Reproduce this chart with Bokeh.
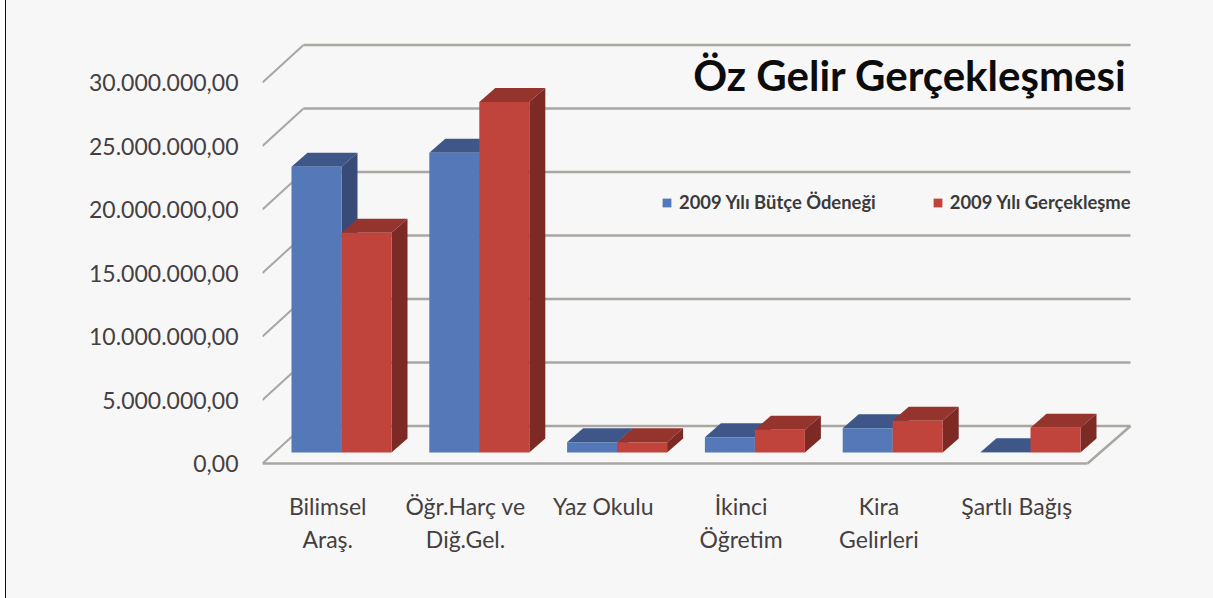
from bokeh.plotting import figure
from bokeh.embed import file_html
from bokeh.resources import INLINE
from bokeh.core.properties import value
from bokeh.models import FixedTicker, Legend, LegendItem, Range1d

title = "Öz Gelir Gerçekleşmesi"
categories = [["Bilimsel", "Araş."], ["Öğr.Harç ve", "Diğ.Gel."], ["Yaz Okulu"],
              ["İkinci", "Öğretim"], ["Kira", "Gelirleri"], ["Şartlı Bağış"]]
series_names = ["2009 Yılı Bütçe Ödeneği", "2009 Yılı Gerçekleşme"]
butce = [22500000, 23600000, 800000, 1200000, 1900000, 20000]
gerceklesme = [17300000, 27600000, 800000, 1800000, 2500000, 1950000]
ticks = [0, 5000000, 10000000, 15000000, 20000000, 25000000, 30000000]
tick_labels = ["0,00", "5.000.000,00", "10.000.000,00", "15.000.000,00",
               "20.000.000,00", "25.000.000,00", "30.000.000,00"]

BG = "#f7f7f7"
GRID = "#aaa6a2"
TXT = "#45403f"
FONT = "Lato"
OX = 6                      # the figure starts right of the page's left rule
W, H = 1213 - OX, 598
FRAME_LEFT = 262
PX_Y = 63.5 / 5000000       # pixels per unit value
PX_X = 137.8                # pixels per category
def xv(px): return (px - 341) / PX_X
def yv(py): return (463 - py) / PX_Y

p = figure(width=W, height=H, output_backend="svg", toolbar_location=None,
           x_range=Range1d(xv(FRAME_LEFT), xv(1213)), y_range=Range1d(yv(598), yv(0)),
           min_border_left=FRAME_LEFT - OX, min_border_right=0, min_border_top=0, min_border_bottom=0,
           background_fill_color=BG, border_fill_color=BG, outline_line_color=None,
           x_axis_location=None, y_axis_location="left", margin=(0, 0, 0, OX))
p.grid.visible = False

ax = p.yaxis[0]
ax.ticker = FixedTicker(ticks=ticks)
ax.major_label_overrides = {t: s for t, s in zip(ticks, tick_labels)}
ax.axis_line_color = None
ax.major_tick_line_color = None
ax.minor_tick_line_color = None
ax.major_label_standoff = 18
ax.major_label_text_font = FONT
ax.major_label_text_font_size = "23px"
ax.major_label_text_color = TXT

# Walls and floor
wall_dx = 41 / PX_X
wall_dy = 37.5 / 63.5 * 5000000
x0 = xv(262)
x_back_end = xv(1130)
x_front_end = xv(1087)
p.segment([x0 + wall_dx] * len(ticks), [t + wall_dy for t in ticks],
          [x_back_end] * len(ticks), [t + wall_dy for t in ticks], line_color=GRID, line_width=2.5)
p.segment([x0] * len(ticks), ticks, [x0 + wall_dx] * len(ticks), [t + wall_dy for t in ticks],
          line_color=GRID, line_width=2)
p.segment([x0, x_front_end], [0, 0], [x_front_end, x_back_end], [0, wall_dy], line_color=GRID, line_width=2.5)

# 3D bars
bw = 50 / PX_X
dx = 16 / PX_X
dy = 14 / 63.5 * 5000000
base = 11 / 63.5 * 5000000
legend_renderers = []
specs = [(butce, -1, "#5478b8", "#3f5688", "#384a78"),
         (gerceklesme, 0, "#c0443b", "#94342c", "#7d2a24")]
for i in range(len(categories)):
    for vals, off, front, top, side in specs:
        l, r = i + off * bw, i + off * bw + bw
        t = base + vals[i]
        p.patch([l, r, r + dx, l + dx], [t, t, t + dy, t + dy], fill_color=top, line_color=None)
        p.patch([r, r + dx, r + dx, r], [base, base + dy, t + dy, t], fill_color=side, line_color=None)
        q = p.quad(left=[l], right=[r], bottom=[base], top=[t], fill_color=front, line_color=None)
        if i == 0:
            legend_renderers.append(q)

# Category labels
xs, ys, txt = [], [], []
for i, lines in enumerate(categories):
    for j, s in enumerate(lines):
        xs.append(i - 0.1)
        ys.append(yv(505 + j * 33))
        txt.append(s)
p.text(xs, ys, text=txt, text_align="center", text_baseline="middle", text_font=value(FONT),
       text_font_size="23px", text_color=TXT)

# Title
p.text([xv(1126)], [yv(74)], text=[title], text_align="right", text_baseline="middle",
       text_font=value(FONT), text_font_style="bold", text_font_size="42px", text_color="#0c0c0c")

# Legend
legend = Legend(items=[LegendItem(label=series_names[k], renderers=[legend_renderers[k]]) for k in range(2)],
                orientation="horizontal", location=(661 - FRAME_LEFT, 385),
                background_fill_alpha=0, border_line_color=None, padding=0, margin=0,
                glyph_width=11, glyph_height=11, label_standoff=7, spacing=56,
                label_text_font=FONT, label_text_font_style="bold", label_text_font_size="18.4px",
                label_text_color="#3a3a3a")
p.add_layout(legend, "center")

html = file_html(p, INLINE)
html = html.replace("</head>", "<style>html{background:linear-gradient(to right,#fff 5px,#111 5px,#111 6px,#f7f7f7 6px)}</style></head>", 1)
open("out.html", "w").write(html)
